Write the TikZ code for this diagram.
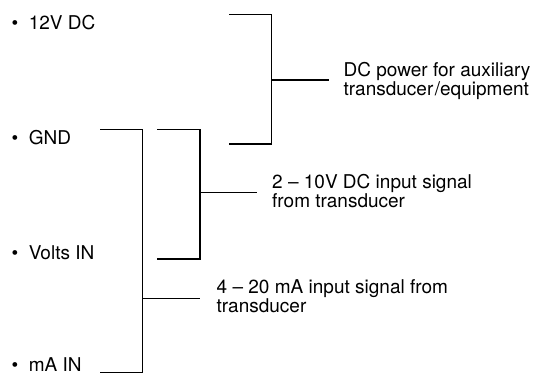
\documentclass[tikz,border=0pt]{standalone}
\usepackage{fontspec}
\setmainfont{TeX Gyre Heros}
\begin{document}
\begin{tikzpicture}[x=1pt,y=-1pt,
  wire/.style={line width=1.5pt},
  txt/.style={anchor=base west,inner sep=0pt,font=\fontsize{19}{22}\selectfont},
  lbl/.style={anchor=base west,inner sep=0pt,align=left}]
\useasboundingbox (0,0) rectangle (543,375);
% pin names
\node[txt] (p12)  at (11.5,29.3) {\textbullet\hspace{10.5pt}12V DC};
\node[txt] (pgnd) at (11.5,144)  {\textbullet\hspace{10.5pt}GND};
\node[txt] (pv)   at (11.5,259)  {\textbullet\hspace{10.5pt}Volts IN};
\node[txt] (pma)  at (11.5,371)  {\textbullet\hspace{10.5pt}mA IN};
% labels (base anchor = baseline of the last line)
\node[lbl,font=\fontsize{19}{14.3}\selectfont] (dc) at (343.5,95.3)
  {DC power for auxiliary\\transducer\kern1.5pt/equipment};
\node[lbl,font=\fontsize{19}{14.8}\selectfont] (v) at (272,207.5)
  {2 – 10V DC input signal\\from transducer};
\node[lbl,font=\fontsize{19}{13.9}\selectfont] (m) at (216.5,312.5)
  {4 – 20 mA input signal from\\transducer};
% bracket 1 (12V DC / GND)
\coordinate (a1) at (229,14.3);
\coordinate (a2) at (271.7,14.3);
\coordinate (a3) at (271.7,144);
\coordinate (a4) at (229,144);
\coordinate (am) at (271.7,80);
\coordinate (ae) at (328.7,80);
% bracket 2 (GND / Volts IN)
\coordinate (b1) at (157.3,129.3);
\coordinate (b2) at (200,129.3);
\coordinate (b3) at (200,259);
\coordinate (b4) at (157.3,259);
\coordinate (bm) at (200,192.7);
\coordinate (be) at (257.3,192.7);
% bracket 3 (GND / mA IN)
\coordinate (c1) at (100,129.3);
\coordinate (c2) at (142.7,129.3);
\coordinate (c3) at (142.7,372.7);
\coordinate (c4) at (100,372.7);
\coordinate (cm) at (142.7,298.3);
\coordinate (ce) at (200,298.3);
\draw[wire] (a1) -- (a2) -- (a3) -- (a4);
\draw[wire] (am) -- (ae);
\draw[wire] (b1) -- (b2) -- (b3) -- (b4);
\draw[wire] (bm) -- (be);
\draw[wire] (c1) -- (c2) -- (c3) -- (c4);
\draw[wire] (cm) -- (ce);
\end{tikzpicture}
\end{document}
